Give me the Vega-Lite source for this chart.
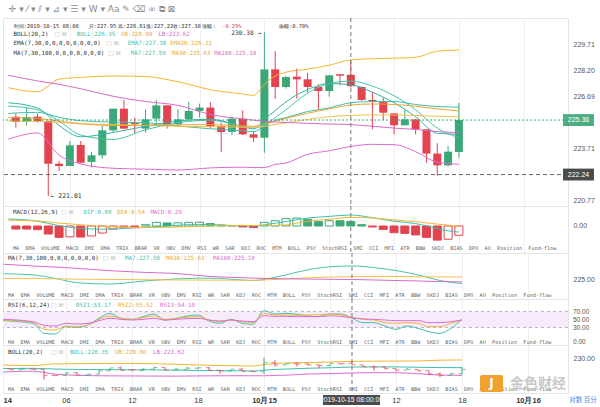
{
"$schema":"https://vega.github.io/schema/vega-lite/v6.json",
"background":"white",
"padding":{"left":0,"right":0,"top":5,"bottom":0},
"title":{"text":"✛ ▾  ⁄ ▾  ⫽ ▾  ⊿ ▾  ☰ ▾  W ▾  Aa  ✎  ⌫  ∞  ⧉  ⊠","anchor":"start","fontSize":9,"font":"DejaVu Sans","fontWeight":"normal","color":"#8a8a8a","offset":3,"dx":8},
"spacing":0,
"bounds":"flush",
"resolve":{"scale":{"y":"independent"}},
"config":{"view":{"stroke":"#e4e4e4"},"legend":{"disable":true},"font":"Liberation Sans"},
"datasets":{
"candles":[
{"t":1,"o":225.55,"h":225.74,"l":224.92,"c":225.25},
{"t":2,"o":225.25,"h":226.07,"l":225.06,"c":225.53},
{"t":3,"o":225.55,"h":225.74,"l":225.21,"c":225.30},
{"t":4,"o":225.30,"h":225.32,"l":221.01,"c":222.86},
{"t":5,"o":222.86,"h":223.02,"l":222.45,"c":222.73},
{"t":6,"o":222.73,"h":224.16,"l":222.73,"c":223.91},
{"t":7,"o":223.93,"h":224.16,"l":222.88,"c":222.92},
{"t":8,"o":222.96,"h":223.53,"l":222.64,"c":223.34},
{"t":9,"o":223.34,"h":225.06,"l":223.15,"c":224.77},
{"t":10,"o":224.77,"h":226.01,"l":224.68,"c":226.01},
{"t":11,"o":226.01,"h":226.51,"l":224.83,"c":224.87},
{"t":12,"o":225.22,"h":225.50,"l":224.60,"c":225.12},
{"t":13,"o":224.87,"h":225.97,"l":224.64,"c":225.40},
{"t":14,"o":225.44,"h":226.51,"l":225.21,"c":226.20},
{"t":15,"o":226.20,"h":226.20,"l":224.87,"c":225.11},
{"t":16,"o":225.11,"h":225.97,"l":225.02,"c":225.40},
{"t":17,"o":225.40,"h":226.39,"l":225.34,"c":225.88},
{"t":18,"o":225.88,"h":226.30,"l":225.50,"c":226.07},
{"t":19,"o":226.07,"h":226.39,"l":224.87,"c":225.02},
{"t":20,"o":225.02,"h":225.21,"l":223.53,"c":224.68},
{"t":21,"o":224.68,"h":225.55,"l":224.49,"c":225.44},
{"t":22,"o":225.44,"h":225.92,"l":224.49,"c":224.54},
{"t":23,"o":224.54,"h":224.73,"l":224.10,"c":224.35},
{"t":24,"o":224.35,"h":230.38,"l":223.49,"c":228.26},
{"t":25,"o":228.26,"h":229.31,"l":226.58,"c":227.25},
{"t":26,"o":227.25,"h":227.88,"l":227.16,"c":227.82},
{"t":27,"o":227.84,"h":228.30,"l":226.58,"c":227.69},
{"t":28,"o":227.69,"h":228.07,"l":226.93,"c":227.25},
{"t":29,"o":227.25,"h":227.40,"l":225.97,"c":227.02},
{"t":30,"o":227.02,"h":227.92,"l":226.70,"c":227.92},
{"t":31,"o":227.98,"h":227.98,"l":227.35,"c":227.90},
{"t":32,"o":227.95,"h":228.81,"l":227.22,"c":227.30},
{"t":33,"o":227.25,"h":227.30,"l":226.45,"c":226.51},
{"t":34,"o":226.51,"h":226.96,"l":224.83,"c":226.43},
{"t":35,"o":226.39,"h":226.64,"l":225.36,"c":225.78},
{"t":36,"o":225.74,"h":225.74,"l":224.54,"c":225.06},
{"t":37,"o":225.06,"h":225.97,"l":225.06,"c":225.40},
{"t":38,"o":225.40,"h":225.40,"l":224.54,"c":224.83},
{"t":39,"o":224.83,"h":224.83,"l":222.92,"c":223.44},
{"t":40,"o":223.44,"h":224.03,"l":222.16,"c":222.77},
{"t":41,"o":222.77,"h":223.88,"l":222.69,"c":223.55},
{"t":42,"o":223.53,"h":226.35,"l":223.21,"c":225.36}
],
"lines":[
{"t":0.3,"ub":227.21,"mid":225.74,"lb":224.26,"ma7":226.16,"ema7":226.35,"ma30":225.30,"ema30":225.50,"ma100":227.92},
{"t":3,"ub":226.98,"mid":225.80,"lb":224.62,"ma7":225.95,"ema7":226.05,"ma30":225.28,"ema30":225.45,"ma100":227.60},
{"t":5,"ub":227.70,"mid":225.52,"lb":223.35,"ma7":225.30,"ema7":225.05,"ma30":225.22,"ema30":225.30,"ma100":227.40},
{"t":7,"ub":227.80,"mid":225.32,"lb":222.85,"ma7":224.50,"ema7":224.40,"ma30":225.15,"ema30":225.15,"ma100":227.15},
{"t":10,"ub":227.88,"mid":225.24,"lb":222.60,"ma7":224.25,"ema7":224.65,"ma30":225.10,"ema30":225.05,"ma100":226.72},
{"t":13,"ub":227.85,"mid":225.20,"lb":222.55,"ma7":224.80,"ema7":225.00,"ma30":225.05,"ema30":225.05,"ma100":226.42},
{"t":16,"ub":227.55,"mid":225.02,"lb":222.50,"ma7":225.20,"ema7":225.30,"ma30":225.00,"ema30":225.08,"ma100":226.20},
{"t":19,"ub":227.10,"mid":224.86,"lb":222.62,"ma7":225.35,"ema7":225.40,"ma30":224.98,"ema30":225.10,"ma100":225.68},
{"t":22,"ub":226.85,"mid":224.75,"lb":222.66,"ma7":225.00,"ema7":224.98,"ma30":224.95,"ema30":225.02,"ma100":225.42},
{"t":23,"ub":226.77,"mid":224.70,"lb":222.64,"ma7":224.90,"ema7":224.85,"ma30":224.95,"ema30":225.00,"ma100":225.35},
{"t":24,"ub":227.40,"mid":225.02,"lb":222.64,"ma7":225.10,"ema7":225.40,"ma30":225.00,"ema30":225.15,"ma100":225.28},
{"t":25,"ub":227.88,"mid":225.35,"lb":222.82,"ma7":225.50,"ema7":225.90,"ma30":225.10,"ema30":225.30,"ma100":225.25},
{"t":26,"ub":228.10,"mid":225.50,"lb":222.90,"ma7":225.95,"ema7":226.40,"ma30":225.20,"ema30":225.45,"ma100":225.22},
{"t":28,"ub":228.27,"mid":225.85,"lb":223.40,"ma7":226.90,"ema7":227.10,"ma30":225.40,"ema30":225.75,"ma100":225.17},
{"t":30,"ub":228.50,"mid":226.05,"lb":223.60,"ma7":227.45,"ema7":227.45,"ma30":225.55,"ema30":226.00,"ma100":225.13},
{"t":32,"ub":228.80,"mid":226.35,"lb":223.85,"ma7":227.59,"ema7":227.38,"ma30":225.63,"ema30":226.22,"ma100":225.10},
{"t":34,"ub":228.87,"mid":226.42,"lb":223.97,"ma7":227.30,"ema7":226.95,"ma30":225.65,"ema30":226.28,"ma100":225.00},
{"t":36,"ub":228.90,"mid":226.42,"lb":223.95,"ma7":226.75,"ema7":226.35,"ma30":225.65,"ema30":226.25,"ma100":224.90},
{"t":38,"ub":228.95,"mid":226.25,"lb":223.55,"ma7":225.95,"ema7":225.55,"ma30":225.62,"ema30":226.15,"ma100":224.82},
{"t":40,"ub":229.30,"mid":226.13,"lb":222.95,"ma7":224.90,"ema7":224.60,"ma30":225.58,"ema30":226.00,"ma100":224.70},
{"t":42,"ub":229.37,"mid":226.10,"lb":222.83,"ma7":224.35,"ema7":224.55,"ma30":225.55,"ema30":225.88,"ma100":224.64}
],
"macd":[
{"t":1,"h":-0.19},{"t":2,"h":-0.19},{"t":3,"h":-0.23},{"t":4,"h":-0.5},{"t":5,"h":-0.71},{"t":6,"h":-0.68},{"t":7,"h":-0.69},{"t":8,"h":-0.62},{"t":9,"h":-0.44},{"t":10,"h":-0.2},{"t":11,"h":-0.08},{"t":12,"h":-0.04},{"t":13,"h":0.08},{"t":14,"h":0.23},{"t":15,"h":0.19},{"t":16,"h":0.2},{"t":17,"h":0.23},{"t":18,"h":0.24},{"t":19,"h":0.15},{"t":20,"h":0.06},{"t":21,"h":0.02},{"t":22,"h":-0.06},{"t":23,"h":-0.1},{"t":24,"h":0.23},{"t":25,"h":0.33},{"t":26,"h":0.46},{"t":27,"h":0.5},{"t":28,"h":0.42},{"t":29,"h":0.27},{"t":30,"h":0.33},{"t":31,"h":0.33},{"t":32,"h":0.29},{"t":33,"h":0.08},{"t":34,"h":-0.06},{"t":35,"h":-0.21},{"t":36,"h":-0.42},{"t":37,"h":-0.46},{"t":38,"h":-0.56},{"t":39,"h":-0.71},{"t":40,"h":-0.88},{"t":41,"h":-0.83},{"t":42,"h":-0.58}
],
"macdl":[
{"t":0.3,"dif":0.44,"dea":0.36},{"t":3,"dif":0.30,"dea":0.32},{"t":5,"dif":0.02,"dea":0.18},{"t":7,"dif":-0.15,"dea":0.08},{"t":9,"dif":-0.20,"dea":-0.02},{"t":12,"dif":-0.12,"dea":-0.10},{"t":15,"dif":0.0,"dea":-0.08},{"t":18,"dif":0.10,"dea":-0.02},{"t":20,"dif":0.06,"dea":0.02},{"t":23,"dif":0.0,"dea":0.03},{"t":24,"dif":0.08,"dea":0.02},{"t":26,"dif":0.28,"dea":0.07},{"t":28,"dif":0.50,"dea":0.30},{"t":30,"dif":0.60,"dea":0.42},{"t":32,"dif":0.69,"dea":0.54},{"t":34,"dif":0.52,"dea":0.50},{"t":36,"dif":0.30,"dea":0.38},{"t":38,"dif":0.15,"dea":0.27},{"t":40,"dif":-0.15,"dea":0.12},{"t":41,"dif":-0.30,"dea":0.05},{"t":42,"dif":-0.38,"dea":-0.02}
],
"rsi":[
{"t":0.3,"r1":47,"r2":48.7,"r3":50.4},{"t":3,"r1":40.4,"r2":42.9,"r3":44.6},{"t":4,"r1":15.4,"r2":25.4,"r3":35.4},{"t":5,"r1":13.7,"r2":23.7,"r3":33.7},{"t":6,"r1":32.1,"r2":33.7,"r3":40.4},{"t":7,"r1":30.4,"r2":32.1,"r3":38.7},{"t":8,"r1":36.2,"r2":36.2,"r3":40.4},{"t":9,"r1":53,"r2":50.4,"r3":47.1},{"t":10,"r1":65.4,"r2":58.7,"r3":52.9},{"t":11,"r1":52.9,"r2":52.9,"r3":50.4},{"t":12,"r1":50.4,"r2":50.4,"r3":48.7},{"t":13,"r1":57.1,"r2":54.6,"r3":50.4},{"t":14,"r1":63.7,"r2":58.7,"r3":52.9},{"t":15,"r1":48.7,"r2":50.4,"r3":48.7},{"t":16,"r1":52.9,"r2":52.9,"r3":50.4},{"t":17,"r1":58.7,"r2":55.4,"r3":52.1},{"t":18,"r1":61.2,"r2":57.1,"r3":52.9},{"t":19,"r1":46.2,"r2":48.7,"r3":48.7},{"t":20,"r1":40.4,"r2":44.6,"r3":46.2},{"t":21,"r1":50.4,"r2":48.7,"r3":48.7},{"t":22,"r1":40.4,"r2":44.6,"r3":46.2},{"t":23,"r1":37.9,"r2":42.1,"r3":44.6},{"t":24,"r1":72,"r2":65.4,"r3":59.6},{"t":25,"r1":63.7,"r2":61.2,"r3":57.9},{"t":26,"r1":65.4,"r2":61.2,"r3":57.9},{"t":27,"r1":63,"r2":60.4,"r3":57.1},{"t":28,"r1":58.7,"r2":61.2,"r3":57.1},{"t":29,"r1":57.1,"r2":62,"r3":57.5},{"t":30,"r1":63.7,"r2":63.7,"r3":59},{"t":31,"r1":63.7,"r2":62,"r3":58},{"t":32,"r1":53.17,"r2":55.52,"r3":54.1},{"t":33,"r1":42.1,"r2":50.4,"r3":51.5},{"t":34,"r1":42.1,"r2":48.7,"r3":50.4},{"t":35,"r1":33.7,"r2":42.1,"r3":48.7},{"t":36,"r1":25.4,"r2":40.4,"r3":47.1},{"t":37,"r1":33.7,"r2":42.1,"r3":47.1},{"t":38,"r1":27.9,"r2":40.4,"r3":47.1},{"t":39,"r1":19.6,"r2":32.1,"r3":42.1},{"t":40,"r1":15.4,"r2":32.1,"r3":42.1},{"t":41,"r1":27.9,"r2":40.4,"r3":44.6},{"t":42,"r1":50.4,"r2":48.7,"r3":48.7}
]
},
"vconcat":[
{
"width":565,"height":188,
"layer":[
{"data":{"name":"candles"},"transform":[{"calculate":"datum.c >= datum.o ? 'up' : 'down'","as":"dir"}],
 "mark":{"type":"rule","strokeWidth":1},
 "encoding":{
  "x":{"field":"t","type":"quantitative","scale":{"domain":[0.2727,51.6364],"nice":false,"zero":false},"axis":{"values":[6,12,18,24,30,36,42,48],"grid":true,"gridColor":"#efefef","labels":false,"ticks":false,"domain":false,"title":null}},
  "y":{"field":"l","type":"quantitative","scale":{"domain":[220.44,231.2],"nice":false,"zero":false},"axis":{"orient":"right","values":[220.77,223.71,226.69,228.2,229.71],"format":".2f","grid":false,"ticks":false,"domain":false,"labelFontSize":7,"labelColor":"#555","labelPadding":5,"title":null}},
  "y2":{"field":"h"},
  "color":{"field":"dir","type":"nominal","scale":{"domain":["up","down","ub","mid","lb","ma7","ema7","ma30","ema30","ma100","dif","dea","r1","r2","r3"],"range":["#3da877","#e2434f","#f2b632","#3fc0ae","#de6bcf","#46c6ad","#35b3a9","#f5c04e","#eea52c","#d96ac9","#3fc0ae","#f2b632","#3fc0ae","#f2b632","#de6bcf"]},"legend":null}}},
{"data":{"name":"candles"},"transform":[{"calculate":"datum.c >= datum.o ? 'up' : 'down'","as":"dir"}],
 "mark":{"type":"bar","width":8},
 "encoding":{
  "x":{"field":"t","type":"quantitative","scale":{"domain":[0.2727,51.6364],"nice":false,"zero":false}},
  "y":{"field":"o","type":"quantitative","scale":{"domain":[220.44,231.2],"nice":false,"zero":false}},
  "y2":{"field":"c"},
  "color":{"field":"dir","type":"nominal","legend":null}}},
{"data":{"name":"lines"},"transform":[{"fold":["ub","mid","lb","ma7","ema7","ma30","ema30","ma100"],"as":["s","v"]}],
 "mark":{"type":"line","strokeWidth":1,"interpolate":"monotone"},
 "encoding":{
  "x":{"field":"t","type":"quantitative","scale":{"domain":[0.2727,51.6364],"nice":false,"zero":false}},
  "y":{"field":"v","type":"quantitative","scale":{"domain":[220.44,231.2],"nice":false,"zero":false}},
  "color":{"field":"s","type":"nominal","legend":null}}},
{"data":{"values":[{}]},"mark":{"type":"rule","color":"#3da877","strokeDash":[2,2],"strokeWidth":1},"encoding":{"y":{"datum":225.36}}},
{"data":{"values":[{}]},"mark":{"type":"rule","color":"#666","strokeDash":[4,3],"strokeWidth":1},"encoding":{"y":{"datum":222.24}}},
{"data":{"values":[{}]},"mark":{"type":"rule","color":"#777","strokeDash":[4,3],"strokeWidth":1},"encoding":{"x":{"datum":32}}},
{"data":{"values":[{}]},"mark":{"type":"rect","color":"#4cae7f"},"encoding":{"x":{"datum":51.64,"scale":{"domain":[0.2727,51.6364],"nice":false,"zero":false}},"x2":{"datum":54.5},"y":{"datum":225.7},"y2":{"datum":225.02}}},
{"data":{"values":[{}]},"mark":{"type":"text","color":"white","fontSize":7,"baseline":"middle"},"encoding":{"x":{"datum":53.07},"y":{"datum":225.36},"text":{"value":"225.36"}}},
{"data":{"values":[{}]},"mark":{"type":"rect","color":"#4a4a4a"},"encoding":{"x":{"datum":51.64},"x2":{"datum":54.5},"y":{"datum":222.58},"y2":{"datum":221.9}}},
{"data":{"values":[{}]},"mark":{"type":"text","color":"white","fontSize":7,"baseline":"middle"},"encoding":{"x":{"datum":53.07},"y":{"datum":222.24},"text":{"value":"222.24"}}},
{"data":{"values":[{}]},"mark":{"type":"text","align":"right","baseline":"middle","fontSize":6.2,"color":"#333","font":"DejaVu Sans Mono"},"encoding":{"x":{"datum":23.7},"y":{"datum":230.34},"text":{"value":"230.38 →"}}},
{"data":{"values":[{}]},"mark":{"type":"text","align":"left","baseline":"middle","fontSize":6.5,"color":"#333","font":"DejaVu Sans Mono"},"encoding":{"x":{"datum":4.2},"y":{"datum":221.01},"text":{"value":"← 221.01"}}},
{"data":{"values":[{}]},"mark":{"type":"text","align":"left","baseline":"middle","fontSize":5.4,"color":"#333","font":"DejaVu Sans Mono"},"encoding":{"x":{"datum":0.79},"y":{"datum":230.74},"text":{"value":"时间:2019-10-15 08:00"}}},
{"data":{"values":[{}]},"mark":{"type":"text","align":"left","baseline":"middle","fontSize":5.4,"color":"#333","font":"DejaVu Sans Mono"},"encoding":{"x":{"datum":7.73},"y":{"datum":230.74},"text":{"value":"开:227.95"}}},
{"data":{"values":[{}]},"mark":{"type":"text","align":"left","baseline":"middle","fontSize":5.4,"color":"#333","font":"DejaVu Sans Mono"},"encoding":{"x":{"datum":10.45},"y":{"datum":230.74},"text":{"value":"高:228.81"}}},
{"data":{"values":[{}]},"mark":{"type":"text","align":"left","baseline":"middle","fontSize":5.4,"color":"#333","font":"DejaVu Sans Mono"},"encoding":{"x":{"datum":13.0},"y":{"datum":230.74},"text":{"value":"低:227.22"}}},
{"data":{"values":[{}]},"mark":{"type":"text","align":"left","baseline":"middle","fontSize":5.4,"color":"#333","font":"DejaVu Sans Mono"},"encoding":{"x":{"datum":15.55},"y":{"datum":230.74},"text":{"value":"收:227.30"}}},
{"data":{"values":[{}]},"mark":{"type":"text","align":"left","baseline":"middle","fontSize":5.4,"color":"#333","font":"DejaVu Sans Mono"},"encoding":{"x":{"datum":18.27},"y":{"datum":230.74},"text":{"value":"涨幅:"}}},
{"data":{"values":[{}]},"mark":{"type":"text","align":"left","baseline":"middle","fontSize":5.4,"color":"#e2434f","font":"DejaVu Sans Mono"},"encoding":{"x":{"datum":20.09},"y":{"datum":230.74},"text":{"value":"-0.29%"}}},
{"data":{"values":[{}]},"mark":{"type":"text","align":"left","baseline":"middle","fontSize":5.4,"color":"#333","font":"DejaVu Sans Mono"},"encoding":{"x":{"datum":25.36},"y":{"datum":230.74},"text":{"value":"振幅:0.70%"}}},
{"data":{"values":[{}]},"mark":{"type":"text","align":"left","baseline":"middle","fontSize":5.8,"color":"#333","font":"DejaVu Sans Mono"},"encoding":{"x":{"datum":0.79},"y":{"datum":230.3},"text":{"value":"BOLL(20,2)"}}},
{"data":{"values":[{}]},"mark":{"type":"text","align":"left","baseline":"middle","fontSize":6,"color":"#bbb","font":"DejaVu Sans"},"encoding":{"x":{"datum":4.55},"y":{"datum":230.3},"text":{"value":"□ ⊠"}}},
{"data":{"values":[{}]},"mark":{"type":"text","align":"left","baseline":"middle","fontSize":5.8,"color":"#3fc0ae","font":"DejaVu Sans Mono"},"encoding":{"x":{"datum":6.64},"y":{"datum":230.3},"text":{"value":"BOLL:226.35"}}},
{"data":{"values":[{}]},"mark":{"type":"text","align":"left","baseline":"middle","fontSize":5.8,"color":"#eeaa2a","font":"DejaVu Sans Mono"},"encoding":{"x":{"datum":10.73},"y":{"datum":230.3},"text":{"value":"UB:228.80"}}},
{"data":{"values":[{}]},"mark":{"type":"text","align":"left","baseline":"middle","fontSize":5.8,"color":"#de6bcf","font":"DejaVu Sans Mono"},"encoding":{"x":{"datum":14.18},"y":{"datum":230.3},"text":{"value":"LB:223.62"}}},
{"data":{"values":[{}]},"mark":{"type":"text","align":"left","baseline":"middle","fontSize":5.8,"color":"#333","font":"DejaVu Sans Mono"},"encoding":{"x":{"datum":0.79},"y":{"datum":229.78},"text":{"value":"EMA(7,30,0,0,0,0,0,0,0,0)"}}},
{"data":{"values":[{}]},"mark":{"type":"text","align":"left","baseline":"middle","fontSize":6,"color":"#bbb","font":"DejaVu Sans"},"encoding":{"x":{"datum":9.36},"y":{"datum":229.78},"text":{"value":"□ ⊠"}}},
{"data":{"values":[{}]},"mark":{"type":"text","align":"left","baseline":"middle","fontSize":5.8,"color":"#3fc0ae","font":"DejaVu Sans Mono"},"encoding":{"x":{"datum":11.36},"y":{"datum":229.78},"text":{"value":"EMA7:227.38"}}},
{"data":{"values":[{}]},"mark":{"type":"text","align":"left","baseline":"middle","fontSize":5.8,"color":"#eeaa2a","font":"DejaVu Sans Mono"},"encoding":{"x":{"datum":15.27},"y":{"datum":229.78},"text":{"value":"EMA30:226.22"}}},
{"data":{"values":[{}]},"mark":{"type":"text","align":"left","baseline":"middle","fontSize":5.8,"color":"#333","font":"DejaVu Sans Mono"},"encoding":{"x":{"datum":0.79},"y":{"datum":229.21},"text":{"value":"MA(7,30,100,0,0,0,0,0,0,0)"}}},
{"data":{"values":[{}]},"mark":{"type":"text","align":"left","baseline":"middle","fontSize":6,"color":"#bbb","font":"DejaVu Sans"},"encoding":{"x":{"datum":9.55},"y":{"datum":229.21},"text":{"value":"□ ⊠"}}},
{"data":{"values":[{}]},"mark":{"type":"text","align":"left","baseline":"middle","fontSize":5.8,"color":"#3fc0ae","font":"DejaVu Sans Mono"},"encoding":{"x":{"datum":11.64},"y":{"datum":229.21},"text":{"value":"MA7:227.59"}}},
{"data":{"values":[{}]},"mark":{"type":"text","align":"left","baseline":"middle","fontSize":5.8,"color":"#eeaa2a","font":"DejaVu Sans Mono"},"encoding":{"x":{"datum":15.45},"y":{"datum":229.21},"text":{"value":"MA30:225.63"}}},
{"data":{"values":[{}]},"mark":{"type":"text","align":"left","baseline":"middle","fontSize":5.8,"color":"#de6bcf","font":"DejaVu Sans Mono"},"encoding":{"x":{"datum":19.36},"y":{"datum":229.21},"text":{"value":"MA100:225.10"}}}
]
},
{
"width":565,"height":47,
"layer":[
{"data":{"name":"macd"},"transform":[{"window":[{"op":"lag","field":"h","as":"prev"}],"sort":[{"field":"t"}]},{"calculate":"datum.h >= 0 ? 'up' : 'down'","as":"dir"}],
 "mark":{"type":"bar","width":8,"strokeWidth":1},
 "encoding":{
  "x":{"field":"t","type":"quantitative","scale":{"domain":[0.2727,51.6364],"nice":false,"zero":false},"axis":{"values":[6,12,18,24,30,36,42,48],"grid":true,"gridColor":"#efefef","labels":false,"ticks":false,"domain":false,"title":null}},
  "y":{"field":"h","type":"quantitative","scale":{"domain":[-1.6875,1.25],"nice":false,"zero":false},"axis":{"orient":"right","values":[0.0001],"format":".2f","labelOverlap":false,"grid":false,"ticks":false,"domain":false,"labelFontSize":7,"labelColor":"#555","labelPadding":5,"title":null}},
  "y2":{"datum":0},
  "fill":{"condition":{"test":"datum.h > datum.prev","value":"#ffffff"},"field":"dir","type":"nominal","scale":{"domain":["up","down"],"range":["#3da877","#e2434f"]},"legend":null},
  "stroke":{"field":"dir","type":"nominal","scale":{"domain":["up","down"],"range":["#3da877","#e2434f"]},"legend":null}}},
{"data":{"name":"macdl"},"transform":[{"fold":["dif","dea"],"as":["s","v"]}],
 "mark":{"type":"line","strokeWidth":1,"interpolate":"monotone"},
 "encoding":{
  "x":{"field":"t","type":"quantitative","scale":{"domain":[0.2727,51.6364],"nice":false,"zero":false}},
  "y":{"field":"v","type":"quantitative","scale":{"domain":[-1.6875,1.25],"nice":false,"zero":false}},
  "color":{"field":"s","type":"nominal","scale":{"domain":["up","down","ub","mid","lb","ma7","ema7","ma30","ema30","ma100","dif","dea","r1","r2","r3"],"range":["#3da877","#e2434f","#f2b632","#3fc0ae","#de6bcf","#46c6ad","#35b3a9","#f5c04e","#eea52c","#d96ac9","#3fc0ae","#f2b632","#3fc0ae","#f2b632","#de6bcf"]},"legend":null}}},
{"data":{"values":[{}]},"mark":{"type":"rule","color":"#777","strokeDash":[4,3],"strokeWidth":1},"encoding":{"x":{"datum":32}}},
{"data":{"values":[{}]},"mark":{"type":"text","align":"left","baseline":"middle","fontSize":5.8,"color":"#333","font":"DejaVu Sans Mono"},"encoding":{"x":{"datum":0.73},"y":{"datum":0.894},"text":{"value":"MACD(12,26,9)"}}},
{"data":{"values":[{}]},"mark":{"type":"text","align":"left","baseline":"middle","fontSize":6,"color":"#bbb","font":"DejaVu Sans"},"encoding":{"x":{"datum":5.18},"y":{"datum":0.894},"text":{"value":"□ ⊠"}}},
{"data":{"values":[{}]},"mark":{"type":"text","align":"left","baseline":"middle","fontSize":5.8,"color":"#3fc0ae","font":"DejaVu Sans Mono"},"encoding":{"x":{"datum":7.27},"y":{"datum":0.894},"text":{"value":"DIF:0.69"}}},
{"data":{"values":[{}]},"mark":{"type":"text","align":"left","baseline":"middle","fontSize":5.8,"color":"#eeaa2a","font":"DejaVu Sans Mono"},"encoding":{"x":{"datum":10.36},"y":{"datum":0.894},"text":{"value":"DEA:0.54"}}},
{"data":{"values":[{}]},"mark":{"type":"text","align":"left","baseline":"middle","fontSize":5.8,"color":"#de6bcf","font":"DejaVu Sans Mono"},"encoding":{"x":{"datum":13.45},"y":{"datum":0.894},"text":{"value":"MACD:0.29"}}},
{"data":{"values":[{}]},"mark":{"type":"text","align":"left","baseline":"middle","fontSize":5.2,"color":"#666","font":"DejaVu Sans Mono"},"encoding":{"x":{"datum":0.73},"y":{"datum":-1.375},"text":{"value":"MA\u00a0\u00a0EMA\u00a0\u00a0VOLUME\u00a0\u00a0MACD\u00a0\u00a0DMI\u00a0\u00a0DMA\u00a0\u00a0TRIX\u00a0\u00a0BRAR\u00a0\u00a0VR\u00a0\u00a0OBV\u00a0\u00a0EMV\u00a0\u00a0RSI\u00a0\u00a0WR\u00a0\u00a0SAR\u00a0\u00a0KDJ\u00a0\u00a0ROC\u00a0\u00a0MTM\u00a0\u00a0BOLL\u00a0\u00a0PSY\u00a0\u00a0StochRSI\u00a0\u00a0SMI\u00a0\u00a0CCI\u00a0\u00a0MFI\u00a0\u00a0ATR\u00a0\u00a0BBW\u00a0\u00a0SKDJ\u00a0\u00a0BIAS\u00a0\u00a0DPO\u00a0\u00a0AO\u00a0\u00a0Position\u00a0\u00a0Fund-flow"}}}
]
},
{
"width":565,"height":46,
"layer":[
{"data":{"name":"lines"},"transform":[{"fold":["ma7","ma30","ma100"],"as":["s","v"]}],
 "mark":{"type":"line","strokeWidth":1,"interpolate":"monotone"},
 "encoding":{
  "x":{"field":"t","type":"quantitative","scale":{"domain":[0.2727,51.6364],"nice":false,"zero":false},"axis":{"values":[6,12,18,24,30,36,42,48],"grid":true,"gridColor":"#efefef","labels":false,"ticks":false,"domain":false,"title":null}},
  "y":{"field":"v","type":"quantitative","scale":{"domain":[221.48,230],"nice":false,"zero":false},"axis":{"orient":"right","values":[225],"format":".2f","grid":false,"ticks":false,"domain":false,"labelFontSize":7,"labelColor":"#555","labelPadding":5,"title":null}},
  "color":{"field":"s","type":"nominal","scale":{"domain":["up","down","ub","mid","lb","ma7","ema7","ma30","ema30","ma100","dif","dea","r1","r2","r3"],"range":["#3da877","#e2434f","#f2b632","#3fc0ae","#de6bcf","#46c6ad","#35b3a9","#f5c04e","#eea52c","#d96ac9","#3fc0ae","#f2b632","#3fc0ae","#f2b632","#de6bcf"]},"legend":null}}},
{"data":{"values":[{}]},"mark":{"type":"rule","color":"#777","strokeDash":[4,3],"strokeWidth":1},"encoding":{"x":{"datum":32}}},
{"data":{"values":[{}]},"mark":{"type":"text","align":"left","baseline":"middle","fontSize":5.8,"color":"#333","font":"DejaVu Sans Mono"},"encoding":{"x":{"datum":0.73},"y":{"datum":229.07},"text":{"value":"MA(7,30,100,0,0,0,0,0,0,0)"}}},
{"data":{"values":[{}]},"mark":{"type":"text","align":"left","baseline":"middle","fontSize":6,"color":"#bbb","font":"DejaVu Sans"},"encoding":{"x":{"datum":9.36},"y":{"datum":229.07},"text":{"value":"□ ⊠"}}},
{"data":{"values":[{}]},"mark":{"type":"text","align":"left","baseline":"middle","fontSize":5.8,"color":"#3fc0ae","font":"DejaVu Sans Mono"},"encoding":{"x":{"datum":11.36},"y":{"datum":229.07},"text":{"value":"MA7:227.59"}}},
{"data":{"values":[{}]},"mark":{"type":"text","align":"left","baseline":"middle","fontSize":5.8,"color":"#eeaa2a","font":"DejaVu Sans Mono"},"encoding":{"x":{"datum":15.09},"y":{"datum":229.07},"text":{"value":"MA30:225.63"}}},
{"data":{"values":[{}]},"mark":{"type":"text","align":"left","baseline":"middle","fontSize":5.8,"color":"#de6bcf","font":"DejaVu Sans Mono"},"encoding":{"x":{"datum":19.36},"y":{"datum":229.07},"text":{"value":"MA100:225.10"}}},
{"data":{"values":[{}]},"mark":{"type":"text","align":"left","baseline":"middle","fontSize":5.2,"color":"#666","font":"DejaVu Sans Mono"},"encoding":{"x":{"datum":0.73},"y":{"datum":222.22},"text":{"value":"MA\u00a0\u00a0EMA\u00a0\u00a0VOLUME\u00a0\u00a0MACD\u00a0\u00a0DMI\u00a0\u00a0DMA\u00a0\u00a0TRIX\u00a0\u00a0BRAR\u00a0\u00a0VR\u00a0\u00a0OBV\u00a0\u00a0EMV\u00a0\u00a0RSI\u00a0\u00a0WR\u00a0\u00a0SAR\u00a0\u00a0KDJ\u00a0\u00a0ROC\u00a0\u00a0MTM\u00a0\u00a0BOLL\u00a0\u00a0PSY\u00a0\u00a0StochRSI\u00a0\u00a0SMI\u00a0\u00a0CCI\u00a0\u00a0MFI\u00a0\u00a0ATR\u00a0\u00a0BBW\u00a0\u00a0SKDJ\u00a0\u00a0BIAS\u00a0\u00a0DPO\u00a0\u00a0AO\u00a0\u00a0Position\u00a0\u00a0Fund-flow"}}}
]
},
{
"width":565,"height":46,
"layer":[
{"data":{"values":[{}]},"mark":{"type":"rect","color":"#f6ebfb"},"encoding":{"x":{"datum":0.2727},"x2":{"datum":51.6364},"y":{"datum":30},"y2":{"datum":70}}},
{"data":{"values":[{}]},"mark":{"type":"rule","color":"#c9a9da","strokeDash":[3,3],"strokeWidth":1},"encoding":{"y":{"datum":70}}},
{"data":{"values":[{}]},"mark":{"type":"rule","color":"#c9a9da","strokeDash":[3,3],"strokeWidth":1},"encoding":{"y":{"datum":30}}},
{"data":{"name":"rsi"},"transform":[{"fold":["r1","r2","r3"],"as":["s","v"]}],
 "mark":{"type":"line","strokeWidth":1,"interpolate":"monotone"},
 "encoding":{
  "x":{"field":"t","type":"quantitative","scale":{"domain":[0.2727,51.6364],"nice":false,"zero":false},"axis":{"values":[6,12,18,24,30,36,42,48],"grid":true,"gridColor":"#efefef","labels":false,"ticks":false,"domain":false,"title":null}},
  "y":{"field":"v","type":"quantitative","scale":{"domain":[-13.75,101.25],"nice":false,"zero":false},"axis":{"orient":"right","labels":false,"values":[70],"grid":false,"ticks":false,"domain":false,"title":null}},
  "color":{"field":"s","type":"nominal","scale":{"domain":["up","down","ub","mid","lb","ma7","ema7","ma30","ema30","ma100","dif","dea","r1","r2","r3"],"range":["#3da877","#e2434f","#f2b632","#3fc0ae","#de6bcf","#46c6ad","#35b3a9","#f5c04e","#eea52c","#d96ac9","#3fc0ae","#f2b632","#3fc0ae","#f2b632","#de6bcf"]},"legend":null}}},
{"data":{"values":[{}]},"mark":{"type":"text","align":"left","baseline":"middle","fontSize":6.5,"color":"#555"},"encoding":{"x":{"datum":52.09,"scale":{"domain":[0.2727,51.6364],"nice":false,"zero":false}},"y":{"datum":70},"text":{"value":"70.00"}}},
{"data":{"values":[{}]},"mark":{"type":"text","align":"left","baseline":"middle","fontSize":6.5,"color":"#555"},"encoding":{"x":{"datum":52.09},"y":{"datum":50},"text":{"value":"50.00"}}},
{"data":{"values":[{}]},"mark":{"type":"text","align":"left","baseline":"middle","fontSize":6.5,"color":"#555"},"encoding":{"x":{"datum":52.09},"y":{"datum":30},"text":{"value":"30.00"}}},
{"data":{"values":[{}]},"mark":{"type":"text","align":"left","baseline":"middle","fontSize":6.5,"color":"#555"},"encoding":{"x":{"datum":52.09},"y":{"datum":-5},"text":{"value":"0.00"}}},
{"data":{"values":[{}]},"mark":{"type":"rule","color":"#777","strokeDash":[4,3],"strokeWidth":1},"encoding":{"x":{"datum":32}}},
{"data":{"values":[{}]},"mark":{"type":"text","align":"left","baseline":"middle","fontSize":5.8,"color":"#333","font":"DejaVu Sans Mono"},"encoding":{"x":{"datum":0.73},"y":{"datum":86.25},"text":{"value":"RSI(6,12,24)"}}},
{"data":{"values":[{}]},"mark":{"type":"text","align":"left","baseline":"middle","fontSize":6,"color":"#bbb","font":"DejaVu Sans"},"encoding":{"x":{"datum":4.64},"y":{"datum":86.25},"text":{"value":"□ ⊠"}}},
{"data":{"values":[{}]},"mark":{"type":"text","align":"left","baseline":"middle","fontSize":5.8,"color":"#3fc0ae","font":"DejaVu Sans Mono"},"encoding":{"x":{"datum":6.91},"y":{"datum":86.25},"text":{"value":"RSI1:53.17"}}},
{"data":{"values":[{}]},"mark":{"type":"text","align":"left","baseline":"middle","fontSize":5.8,"color":"#eeaa2a","font":"DejaVu Sans Mono"},"encoding":{"x":{"datum":10.73},"y":{"datum":86.25},"text":{"value":"RSI2:55.52"}}},
{"data":{"values":[{}]},"mark":{"type":"text","align":"left","baseline":"middle","fontSize":5.8,"color":"#de6bcf","font":"DejaVu Sans Mono"},"encoding":{"x":{"datum":14.55},"y":{"datum":86.25},"text":{"value":"RSI3:54.10"}}},
{"data":{"values":[{}]},"mark":{"type":"text","align":"left","baseline":"middle","fontSize":5.2,"color":"#666","font":"DejaVu Sans Mono"},"encoding":{"x":{"datum":0.73},"y":{"datum":-5.5},"text":{"value":"MA\u00a0\u00a0EMA\u00a0\u00a0VOLUME\u00a0\u00a0MACD\u00a0\u00a0DMI\u00a0\u00a0DMA\u00a0\u00a0TRIX\u00a0\u00a0BRAR\u00a0\u00a0VR\u00a0\u00a0OBV\u00a0\u00a0EMV\u00a0\u00a0RSI\u00a0\u00a0WR\u00a0\u00a0SAR\u00a0\u00a0KDJ\u00a0\u00a0ROC\u00a0\u00a0MTM\u00a0\u00a0BOLL\u00a0\u00a0PSY\u00a0\u00a0StochRSI\u00a0\u00a0SMI\u00a0\u00a0CCI\u00a0\u00a0MFI\u00a0\u00a0ATR\u00a0\u00a0BBW\u00a0\u00a0SKDJ\u00a0\u00a0BIAS\u00a0\u00a0DPO\u00a0\u00a0AO\u00a0\u00a0Position\u00a0\u00a0Fund-flow"}}}
]
},
{
"width":565,"height":48,
"layer":[
{"data":{"name":"lines"},"transform":[{"fold":["ub","mid","lb"],"as":["s","v"]}],
 "mark":{"type":"line","strokeWidth":1,"interpolate":"monotone"},
 "encoding":{
  "x":{"field":"t","type":"quantitative","scale":{"domain":[0.2727,51.6364],"nice":false,"zero":false},"axis":{"values":[0.2727,6,12,18,24,30,36,42,48],"grid":true,"gridColor":"#efefef","ticks":false,"domain":false,"labelFlush":true,"labelFontSize":7.5,"labelColor":"#333","labelPadding":3,"labelFontWeight":{"condition":{"test":"datum.value < 1 || datum.value == 24 || datum.value == 48","value":"bold"},"value":"normal"},"labelExpr":"datum.value < 1 ? '14' : datum.value == 24 ? '10月15' : datum.value == 48 ? '10月16' : datum.value == 30 ? '' : (datum.value % 24 == 6 ? '06' : datum.value % 24 == 12 ? '12' : '18')","title":null}},
  "y":{"field":"v","type":"quantitative","scale":{"domain":[215.32,235.74],"nice":false,"zero":false},"axis":{"orient":"right","values":[230],"format":".2f","grid":false,"ticks":false,"domain":false,"labelFontSize":7,"labelColor":"#555","labelPadding":5,"title":null}},
  "color":{"field":"s","type":"nominal","scale":{"domain":["up","down","ub","mid","lb","ma7","ema7","ma30","ema30","ma100","dif","dea","r1","r2","r3"],"range":["#3da877","#e2434f","#f2b632","#3fc0ae","#de6bcf","#46c6ad","#35b3a9","#f5c04e","#eea52c","#d96ac9","#3fc0ae","#f2b632","#3fc0ae","#f2b632","#de6bcf"]},"legend":null}}},
{"data":{"name":"candles"},"transform":[{"calculate":"datum.c >= datum.o ? 'up' : 'down'","as":"dir"}],
 "mark":{"type":"rule","strokeWidth":1},
 "encoding":{
  "x":{"field":"t","type":"quantitative","scale":{"domain":[0.2727,51.6364],"nice":false,"zero":false}},
  "y":{"field":"l","type":"quantitative","scale":{"domain":[215.32,235.74],"nice":false,"zero":false}},
  "y2":{"field":"h"},
  "color":{"field":"dir","type":"nominal","legend":null}}},
{"data":{"name":"candles"},"transform":[{"calculate":"datum.c >= datum.o ? 'up' : 'down'","as":"dir"}],
 "mark":{"type":"tick","orient":"horizontal","size":3,"thickness":1,"xOffset":-2},
 "encoding":{
  "x":{"field":"t","type":"quantitative","scale":{"domain":[0.2727,51.6364],"nice":false,"zero":false}},
  "y":{"field":"o","type":"quantitative","scale":{"domain":[215.32,235.74],"nice":false,"zero":false}},
  "color":{"field":"dir","type":"nominal","legend":null}}},
{"data":{"name":"candles"},"transform":[{"calculate":"datum.c >= datum.o ? 'up' : 'down'","as":"dir"}],
 "mark":{"type":"tick","orient":"horizontal","size":3,"thickness":1,"xOffset":2},
 "encoding":{
  "x":{"field":"t","type":"quantitative","scale":{"domain":[0.2727,51.6364],"nice":false,"zero":false}},
  "y":{"field":"c","type":"quantitative","scale":{"domain":[215.32,235.74],"nice":false,"zero":false}},
  "color":{"field":"dir","type":"nominal","legend":null}}},
{"data":{"values":[{}]},"mark":{"type":"rule","color":"#777","strokeDash":[4,3],"strokeWidth":1},"encoding":{"x":{"datum":32}}},
{"data":{"values":[{}]},"mark":{"type":"text","align":"left","baseline":"middle","fontSize":5.8,"color":"#333","font":"DejaVu Sans Mono"},"encoding":{"x":{"datum":0.73},"y":{"datum":232.89},"text":{"value":"BOLL(20,2)"}}},
{"data":{"values":[{}]},"mark":{"type":"text","align":"left","baseline":"middle","fontSize":6,"color":"#bbb","font":"DejaVu Sans"},"encoding":{"x":{"datum":4.64},"y":{"datum":232.89},"text":{"value":"□ ⊠"}}},
{"data":{"values":[{}]},"mark":{"type":"text","align":"left","baseline":"middle","fontSize":5.8,"color":"#3fc0ae","font":"DejaVu Sans Mono"},"encoding":{"x":{"datum":6.36},"y":{"datum":232.89},"text":{"value":"BOLL:226.35"}}},
{"data":{"values":[{}]},"mark":{"type":"text","align":"left","baseline":"middle","fontSize":5.8,"color":"#eeaa2a","font":"DejaVu Sans Mono"},"encoding":{"x":{"datum":10.45},"y":{"datum":232.89},"text":{"value":"UB:228.80"}}},
{"data":{"values":[{}]},"mark":{"type":"text","align":"left","baseline":"middle","fontSize":5.8,"color":"#de6bcf","font":"DejaVu Sans Mono"},"encoding":{"x":{"datum":13.91},"y":{"datum":232.89},"text":{"value":"LB:223.62"}}},
{"data":{"values":[{}]},"mark":{"type":"text","align":"left","baseline":"middle","fontSize":5.2,"color":"#666","font":"DejaVu Sans Mono"},"encoding":{"x":{"datum":0.73},"y":{"datum":217.0},"text":{"value":"MA\u00a0\u00a0EMA\u00a0\u00a0VOLUME\u00a0\u00a0MACD\u00a0\u00a0DMI\u00a0\u00a0DMA\u00a0\u00a0TRIX\u00a0\u00a0BRAR\u00a0\u00a0VR\u00a0\u00a0OBV\u00a0\u00a0EMV\u00a0\u00a0RSI\u00a0\u00a0WR\u00a0\u00a0SAR\u00a0\u00a0KDJ\u00a0\u00a0ROC\u00a0\u00a0MTM\u00a0\u00a0BOLL\u00a0\u00a0PSY\u00a0\u00a0StochRSI\u00a0\u00a0SMI\u00a0\u00a0CCI\u00a0\u00a0MFI\u00a0\u00a0ATR\u00a0\u00a0BBW\u00a0\u00a0SKDJ\u00a0\u00a0BIAS\u00a0\u00a0DPO\u00a0\u00a0AO\u00a0\u00a0Position\u00a0\u00a0Fund-flow"}}},
{"data":{"values":[{}]},"mark":{"type":"rect","color":"#f0a22e","cornerRadius":2},"encoding":{"x":{"datum":43.64},"x2":{"datum":45.73},"y":{"datum":222.98},"y2":{"datum":215.74,"scale":{"domain":[215.32,235.74],"nice":false,"zero":false}}}},
{"data":{"values":[{}]},"mark":{"type":"text","align":"center","baseline":"middle","fontSize":12,"fontWeight":"bold","color":"white","font":"DejaVu Sans"},"encoding":{"x":{"datum":44.68},"y":{"datum":219.4},"text":{"value":"J"}}},
{"data":{"values":[{}]},"mark":{"type":"text","align":"center","baseline":"middle","fontSize":14,"fontWeight":"bold","color":"#c4c4c4","opacity":0.9,"font":"Noto Sans CJK SC"},"encoding":{"x":{"datum":48.9},"y":{"datum":219.15},"text":{"value":"金色财经"}}},
{"data":{"values":[{}]},"mark":{"type":"rect","color":"#4a4a4a"},"encoding":{"x":{"datum":29.36},"x2":{"datum":34.55},"y":{"datum":214.47,"scale":{"domain":[215.32,235.74],"nice":false,"zero":false}},"y2":{"datum":210.21}}},
{"data":{"values":[{}]},"mark":{"type":"text","align":"center","baseline":"middle","fontSize":6.8,"color":"white"},"encoding":{"x":{"datum":31.95},"y":{"datum":212.34,"scale":{"domain":[215.32,235.74],"nice":false,"zero":false}},"text":{"value":"2019-10-15 08:00:00"}}},
{"data":{"values":[{}]},"mark":{"type":"text","align":"center","baseline":"middle","fontSize":6.5,"color":"#3f8ee8","font":"Noto Sans CJK SC"},"encoding":{"x":{"datum":53.0,"scale":{"domain":[0.2727,51.6364],"nice":false,"zero":false}},"y":{"datum":212.34,"scale":{"domain":[215.32,235.74],"nice":false,"zero":false}},"text":{"value":"对数  百分"}}}
]
}
]
}
